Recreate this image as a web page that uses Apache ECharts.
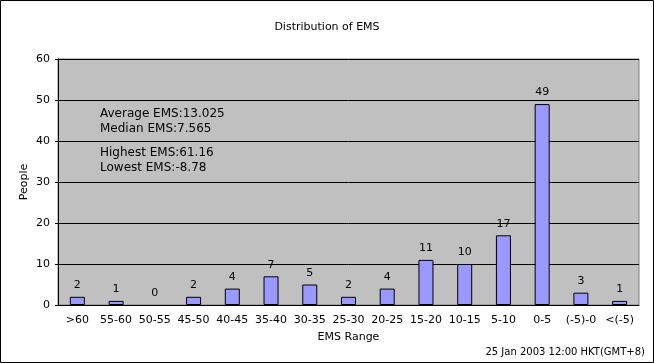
<!DOCTYPE html>
<html><head><meta charset="utf-8">
<script src="https://cdn.jsdelivr.net/npm/echarts@6/dist/echarts.min.js"></script>
<style>html,body{margin:0;padding:0;background:#fff}#c{width:654px;height:363px}</style>
</head><body><div id="c"></div>
<script>
const categories = [">60","55-60","50-55","45-50","40-45","35-40","30-35","25-30","20-25","15-20","10-15","5-10","0-5","(-5)-0","<(-5)"];
const people = [2,1,0,2,4,7,5,2,4,11,10,17,49,3,1];
const statsLines1 = ["Average EMS:13.025","Median EMS:7.565"];
const statsLines2 = ["Highest EMS:61.16","Lowest EMS:-8.78"];
const titleText = "Distribution of EMS";
const footerText = "25 Jan 2003 12:00 HKT(GMT+8)";
const FONT = "DejaVu Sans";
const chart = echarts.init(document.getElementById('c'), null, {renderer:'canvas'});
chart.setOption({
  animation:false,
  backgroundColor:'#fff',
  textStyle:{fontFamily:FONT,color:'#000'},
  title:{text:titleText,left:'center',top:17,textStyle:{fontFamily:FONT,fontSize:11,fontWeight:'normal',color:'#000'}},
  grid:{left:58,right:15,top:59,bottom:58,show:true,backgroundColor:'#c0c0c0',borderColor:'#808080',borderWidth:1},
  xAxis:{type:'category',data:categories,name:'EMS Range',nameLocation:'middle',nameGap:27,
    nameTextStyle:{fontFamily:FONT,fontSize:11,color:'#000'},
    axisLine:{lineStyle:{color:'#000'}},
    axisTick:{inside:true,length:3,lineStyle:{color:'#000'}},
    axisLabel:{interval:0,fontFamily:FONT,fontSize:11,color:'#000',margin:10}},
  yAxis:{type:'value',min:0,max:60,interval:10,name:'People',nameLocation:'middle',nameGap:28,
    nameMoveOverlap:false,
    nameTextStyle:{fontFamily:FONT,fontSize:11,color:'#000'},
    axisLine:{show:true,lineStyle:{color:'#000'}},
    axisTick:{show:true,length:3,lineStyle:{color:'#000'}},
    axisLabel:{fontFamily:FONT,fontSize:11,color:'#000',margin:8},
    splitLine:{lineStyle:{color:'#000',width:1}}},
  series:[{type:'bar',
    data:people.map(v => v === 0 ? {value:v,itemStyle:{borderWidth:0}} : v),
    barWidth:15,
    itemStyle:{color:'#9999ff',borderColor:'#000',borderWidth:1},
    label:{show:true,position:'top',distance:6,fontFamily:FONT,fontSize:11,color:'#000'}}],
  graphic:[
    {type:'rect',shape:{x:0.5,y:0.5,width:653,height:362},style:{fill:'none',stroke:'#000',lineWidth:1},silent:true},
    {type:'text',left:100,top:106,style:{text:statsLines1.join('\n'),font:'12px "DejaVu Sans"',fill:'#000',lineHeight:15}},
    {type:'text',left:100,top:145,style:{text:statsLines2.join('\n'),font:'12px "DejaVu Sans"',fill:'#000',lineHeight:15}},
    {type:'text',right:9,top:347,style:{text:footerText,font:'10px "DejaVu Sans"',fill:'#000'}}
  ]
});
</script></body></html>
